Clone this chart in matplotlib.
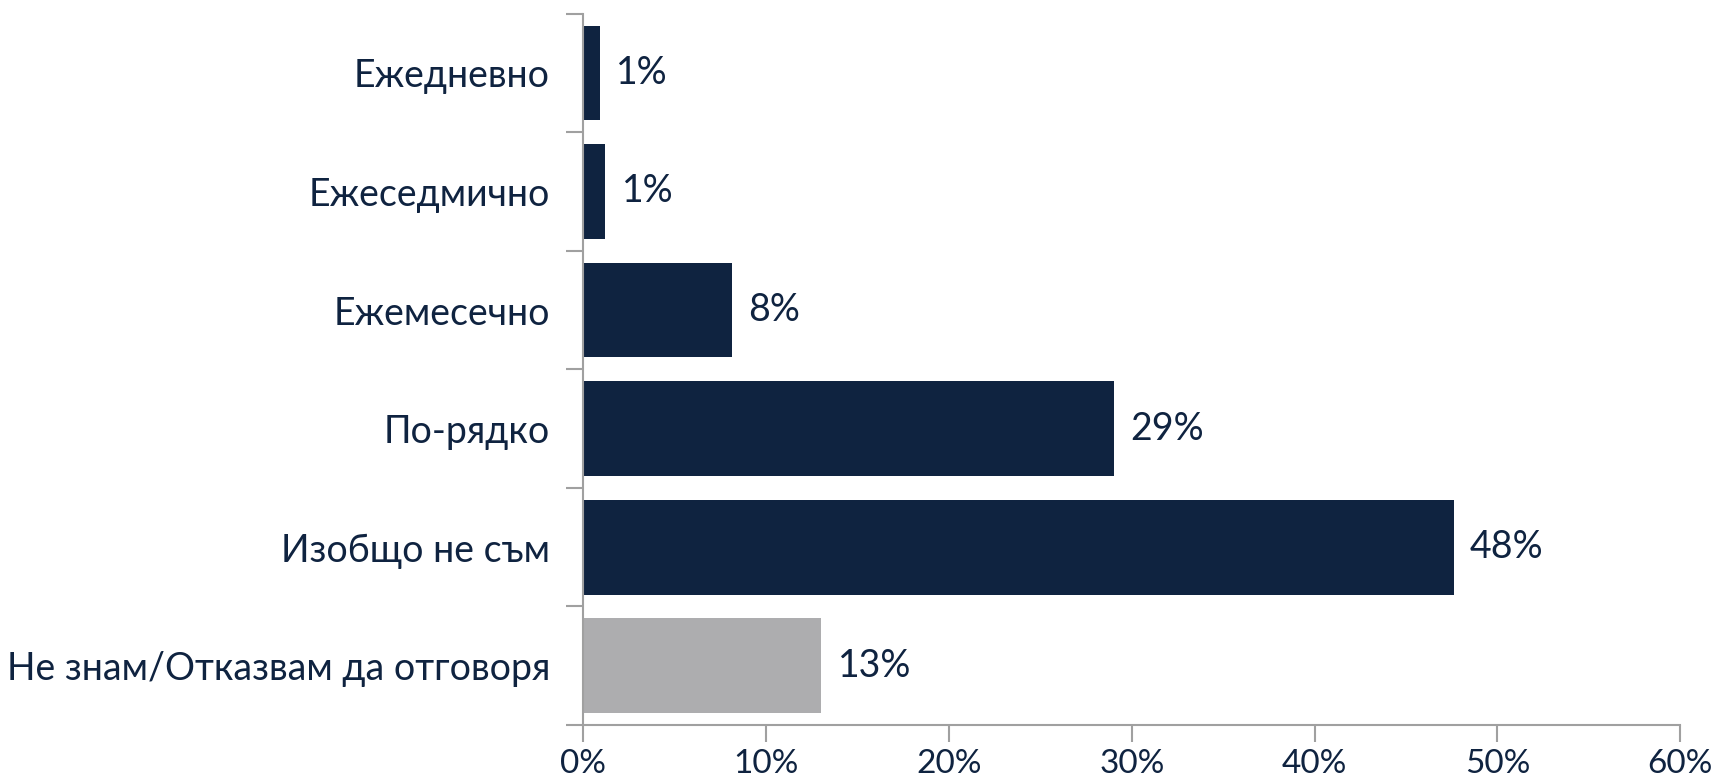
import matplotlib
matplotlib.use('Agg')
import matplotlib.pyplot as plt

categories = ['Ежедневно', 'Ежеседмично', 'Ежемесечно', 'По-рядко',
              'Изобщо не съм', 'Не знам/Отказвам да отговоря']
values = [0.9, 1.2, 8.1, 29.0, 47.6, 13.0]
labels = ['1%', '1%', '8%', '29%', '48%', '13%']
xticks = [0, 10, 20, 30, 40, 50, 60]

navy = '#0F2340'
grey = '#ADADAF'
axis_col = '#A0A0A0'
colors = [navy] * 5 + [grey]

plt.rcParams['font.family'] = ['Lato', 'DejaVu Sans']
fs = 27

fig = plt.figure(figsize=(17.11, 7.8), dpi=100)
ax = fig.add_axes([0.341, 0.0705, 0.641, 0.912])

ypos = list(range(len(categories)))
ax.barh(ypos, values, height=0.8, color=colors)
for y, v, lab in zip(ypos, values, labels):
    ax.text(v + 0.9, y, lab, va='center', ha='left', fontsize=fs, color=navy)

ax.set_ylim(len(categories) - 0.5, -0.5)
ax.set_xlim(0, 60)
ax.set_xticks(xticks)
ax.set_xticklabels([f'{t}%' for t in xticks], fontsize=24, color=navy)
ax.set_yticks([y - 0.5 for y in ypos] + [len(categories) - 0.5])
ax.set_yticklabels([])
ax.set_yticks(ypos, minor=True)
ax.set_yticklabels(categories, minor=True, fontsize=fs, color=navy)
ax.tick_params(axis='y', which='minor', length=0, pad=24)
ax.tick_params(axis='y', which='major', length=12, color=axis_col, width=1.5)
ax.tick_params(axis='x', length=12, color=axis_col, width=1.5, pad=5)

for s in ['top', 'right']:
    ax.spines[s].set_visible(False)
for s in ['left', 'bottom']:
    ax.spines[s].set_color(axis_col)
    ax.spines[s].set_linewidth(1.5)

plt.savefig('out.png', dpi=100)
plt.close(fig)
